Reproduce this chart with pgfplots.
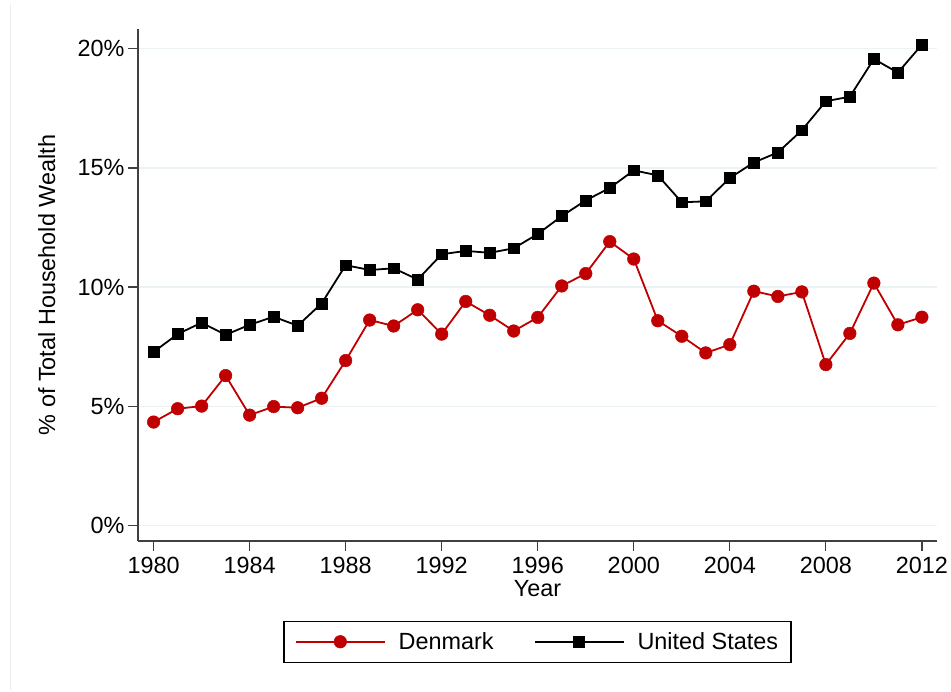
\documentclass[border=0pt]{standalone}
\usepackage{fontspec}
\setmainfont{Liberation Sans}
\usepackage{pgfplots}
\pgfplotsset{compat=1.18}
\definecolor{dkred}{RGB}{192,0,0}
\definecolor{gridc}{RGB}{234,242,243}
\definecolor{axc}{RGB}{64,64,64}
\begin{document}
\begin{tikzpicture}
\begin{axis}[
  scale only axis, width=799bp, height=512bp,
  xmin=1979.35, xmax=2012.63, ymin=-0.65, ymax=20.83,
  axis lines*=left,
  axis line style={axc, line width=1.3bp},
  tick style={axc, line width=1.3bp},
  tick align=outside, major tick length=10bp,
  xtick={1980,1984,...,2012}, ytick={0,5,10,15,20},
  yticklabels={0\%,5\%,10\%,15\%,20\%},
  xticklabel style={/pgf/number format/1000 sep={}, yshift=-2.5bp},
  /pgf/number format/assume math mode=true,
  ymajorgrids, grid style={gridc, line width=1.3bp},
  font=\fontsize{23.5}{28}\selectfont,
  xlabel={Year},
  xlabel style={at={(axis description cs:0.5,-0.109)}, anchor=base},
  ylabel={\% of Total Household Wealth},
  ylabel style={at={(axis description cs:-0.1143,0.5)}, anchor=center},
  legend style={at={(axis description cs:0.5,-0.1555)}, anchor=north,
    legend columns=2, draw=black, line width=1.3bp,
    inner xsep=11bp, inner ysep=9bp,
    nodes={inner sep=2bp, text depth=0.2em},
    /tikz/every odd column/.append style={column sep=11bp},
    /tikz/every even column/.append style={column sep=38bp},
    font=\fontsize{23.5}{28}\selectfont},
  legend cell align=left,
  legend image code/.code={%
    \draw[#1] (0bp,0bp) -- (89bp,0bp);
    \draw[#1, only marks] plot coordinates {(44.5bp,0bp)};},
]
\addplot[dkred, line width=1.8bp, mark=*, mark size=6.3bp,
  mark options={solid, fill=dkred, draw=dkred, line width=0.5bp}] coordinates {
(1980,4.34) (1981,4.90) (1982,5.01) (1983,6.29) (1984,4.63) (1985,4.99)
(1986,4.94) (1987,5.34) (1988,6.92) (1989,8.62) (1990,8.37) (1991,9.05)
(1992,8.03) (1993,9.40) (1994,8.82) (1995,8.16) (1996,8.73) (1997,10.05)
(1998,10.57) (1999,11.91) (2000,11.18) (2001,8.59) (2002,7.94) (2003,7.24)
(2004,7.59) (2005,9.83) (2006,9.61) (2007,9.80) (2008,6.75) (2009,8.06)
(2010,10.17) (2011,8.42) (2012,8.74)};
\addlegendentry{Denmark}
\addplot[black, line width=1.8bp, mark=square*, mark size=5.4bp,
  mark options={solid, fill=black, line width=0.5bp}] coordinates {
(1980,7.28) (1981,8.03) (1982,8.51) (1983,8.00) (1984,8.42) (1985,8.76)
(1986,8.38) (1987,9.32) (1988,10.92) (1989,10.72) (1990,10.79) (1991,10.32)
(1992,11.38) (1993,11.52) (1994,11.44) (1995,11.63) (1996,12.23) (1997,12.98)
(1998,13.64) (1999,14.16) (2000,14.90) (2001,14.69) (2002,13.56) (2003,13.60)
(2004,14.58) (2005,15.23) (2006,15.65) (2007,16.58) (2008,17.80) (2009,17.99)
(2010,19.57) (2011,19.00) (2012,20.17)};
\addlegendentry{United States}
\end{axis}
\draw[black!7, line width=1bp] (current axis.south west) ++(-127bp,-149bp) -- ++(0bp,686bp);
\pgfresetboundingbox
\useasboundingbox (current axis.south west) ++(-138bp,-151bp) rectangle ++(951bp,692bp);
\end{tikzpicture}
\end{document}
